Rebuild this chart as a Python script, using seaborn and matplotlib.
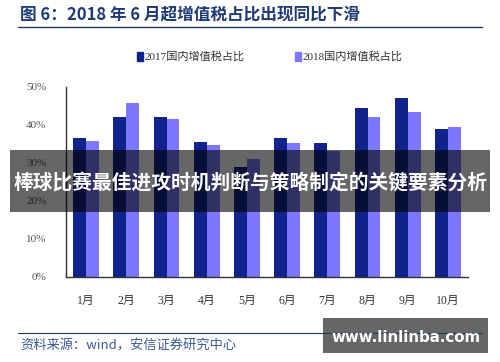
import numpy as np
import pandas as pd
import seaborn as sns
import matplotlib.pyplot as plt
from matplotlib.ticker import FixedLocator, PercentFormatter
from matplotlib.patches import Rectangle

# Data
months = ['1月', '2月', '3月', '4月', '5月', '6月', '7月', '8月', '9月', '10月']
share_2017 = [36.5, 42.0, 42.0, 35.5, 28.9, 36.5, 35.2, 44.4, 47.1, 38.9]
share_2018 = [35.9, 45.9, 41.7, 34.8, 31.0, 35.2, 33.2, 42.0, 43.3, 39.6]
series_names = ['2017国内增值税占比', '2018国内增值税占比']
series_colors = ['#10238c', '#7b78ff']

title = '图 6：2018 年 6 月超增值税占比出现同比下滑'
source = '资料来源：wind，安信证券研究中心'
banner = '棒球比赛最佳进攻时机判断与策略制定的关键要素分析'
watermark = 'www.linlinba.com'

df = pd.DataFrame({
    'month': months * 2,
    'value': share_2017 + share_2018,
    'series': [series_names[0]] * len(months) + [series_names[1]] * len(months),
})

sns.set_style('white')
plt.rcParams['font.family'] = ['Noto Sans CJK SC', 'DejaVu Sans']

W, H = 500, 362
fig = plt.figure(figsize=(W / 100, H / 100), dpi=100)

def px(x0, y0, x1, y1):
    # pixel box (top-left origin) -> figure fraction rect
    return [x0 / W, 1 - y1 / H, (x1 - x0) / W, (y1 - y0) / H]

ax = fig.add_axes(px(66, 87, 468, 277))
sns.barplot(data=df, x='month', y='value', hue='series', order=months,
            hue_order=series_names, palette=series_colors, width=0.64,
            saturation=1, ax=ax, legend=False)
for p in ax.patches:
    p.set_edgecolor('none')

ax.set_ylim(0, 50)
ax.set_xlim(-0.5, len(months) - 0.5)
ax.yaxis.set_major_locator(FixedLocator([0, 10, 20, 30, 40, 50]))
ax.yaxis.set_major_formatter(PercentFormatter(decimals=0))
ax.set_xlabel('')
ax.set_ylabel('')
for s in ['top', 'right']:
    ax.spines[s].set_visible(False)
for s in ['left', 'bottom']:
    ax.spines[s].set_color('#333333')
    ax.spines[s].set_linewidth(1.0)

ax.tick_params(axis='y', direction='in', length=3, color='#333333', width=0.8,
               labelsize=8, labelcolor='#555555', pad=14)
ax.tick_params(axis='x', which='major', length=0, labelsize=8.5,
               labelcolor='#333333', pad=13)
ax.xaxis.set_minor_locator(FixedLocator(np.arange(0.5, len(months) - 0.5 + 1, 1)))
ax.tick_params(axis='x', which='minor', direction='in', length=3,
               color='#555555', width=0.8)
for lab in ax.get_yticklabels():
    lab.set_family(['Liberation Serif', 'Noto Sans CJK SC'])
for lab in ax.get_xticklabels():
    lab.set_family(['Liberation Serif', 'Noto Sans CJK SC'])

# legend
handles = [Rectangle((0, 0), 1, 1, color=c) for c in series_colors]
leg = fig.legend(handles, series_names, loc='center', bbox_to_anchor=(0.54, 1 - 57 / H),
                 ncol=2, frameon=False, handlelength=0.5,
                 handleheight=0.9, handletextpad=0.2, columnspacing=4.5,
                 prop={'family': ['Liberation Serif', 'Noto Sans CJK SC'], 'size': 8})
for t in leg.get_texts():
    t.set_color('#333333')

# title and rules
fig.text(20 / W, 1 - 15 / H, title, fontsize=12, fontweight='bold',
         color='#1f3a78', va='center', ha='left')
fig.add_artist(plt.Line2D([18 / W, 482 / W], [1 - 27 / H, 1 - 27 / H],
                          color='#1f3864', lw=1.0))
fig.add_artist(plt.Line2D([18 / W, 482 / W], [1 - 333 / H, 1 - 333 / H],
                          color='#1f3864', lw=0.8))
fig.text(20 / W, 1 - 346 / H, source, fontsize=9.5, style='italic',
         color='#3a5a9a', va='center', ha='left')

# overlay banner
fig.add_artist(Rectangle((10 / W, 1 - 212 / H), 480 / W, 62 / H,
                         transform=fig.transFigure, color='black', alpha=0.6, lw=0))
fig.text(250 / W, 1 - 183 / H, banner, fontsize=14.2, fontweight='bold',
         color='white', va='center', ha='center')

# watermark box
fig.add_artist(Rectangle((323 / W, 1 - 353 / H), 165 / W, 35 / H,
                         transform=fig.transFigure, color='black', alpha=0.6, lw=0))
fig.text(406 / W, 1 - 337 / H, watermark, fontsize=10.8, fontweight='bold',
         color='white', va='center', ha='center', family='DejaVu Sans')

fig.savefig('out.png', dpi=100)
